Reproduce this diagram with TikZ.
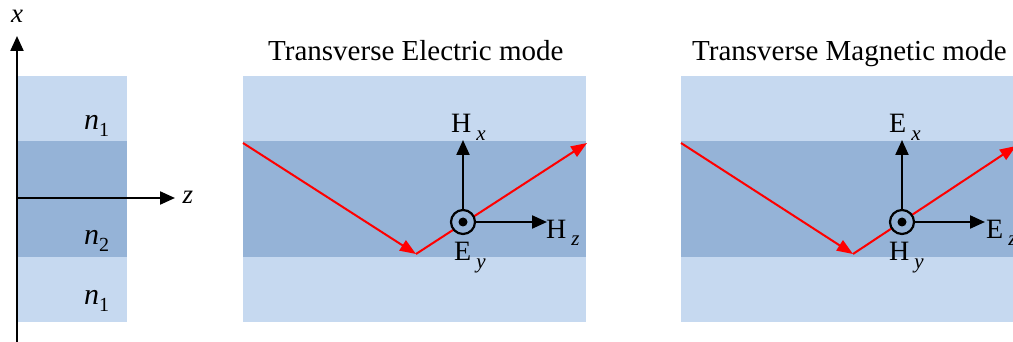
\documentclass[tikz,border=0pt]{standalone}
\usepackage{fontspec}
\setmainfont{Liberation Serif}
\usetikzlibrary{arrows.meta}
\definecolor{lightband}{RGB}{198,217,240}
\definecolor{darkband}{RGB}{149,179,215}
\tikzset{
  axis/.style={line width=2.2pt,-{Triangle[length=15pt,width=13pt]}},
  ray/.style={line width=2pt,red,-{Triangle[length=16pt,width=12pt]}},
  title/.style={anchor=base west,inner sep=0pt,font=\fontsize{29}{31}\selectfont},
  field/.style={anchor=base west,inner sep=0pt,font=\fontsize{28}{30}\selectfont},
  idx/.style={anchor=base west,inner sep=0pt,font=\fontsize{30}{32}\selectfont\itshape},
  axlab/.style={inner sep=0pt,font=\fontsize{27}{29}\selectfont\itshape},
  ring/.style={line width=2.2pt,fill=darkband},
}
\newcommand{\fsub}[1]{\hspace{5pt}\raisebox{-8pt}{\fontsize{21}{22}\selectfont\itshape #1}}
\newcommand{\nsub}[1]{\raisebox{-7pt}{\fontsize{20}{22}\selectfont\upshape #1}}
\begin{document}
\begin{tikzpicture}[x=1pt,y=-1pt]
\useasboundingbox (0,0) rectangle (1013,342);
% ---------- left panel ----------
\fill[lightband] (18,76) rectangle (127,322);
\fill[darkband] (18,141) rectangle (127,257);
\coordinate (o) at (17,198);
\coordinate (xb) at (17,342);
\coordinate (xt) at (17,36);
\coordinate (zt) at (175,198);
\draw[axis] (xb) -- (xt);
\draw[axis] (o) -- (zt);
\node[axlab] (xl) at (17,16) {x};
\node[axlab] (zl) at (188,197) {z};
\node[idx] (n1a) at (84,130) {n\nsub{1}};
\node[idx] (n2) at (84,244) {n\nsub{2}};
\node[idx] (n1b) at (84,304) {n\nsub{1}};
% ---------- TE panel ----------
\fill[lightband] (243,76) rectangle (586,322);
\fill[darkband] (243,141) rectangle (586,257);
\node[title] (t1) at (268,61) {Transverse Electric mode};
\coordinate (r1a) at (243,143);
\coordinate (r1b) at (416,254);
\coordinate (r1c) at (587,143);
\draw[ray] (r1a) -- (r1b);
\draw[ray] (r1b) -- (r1c);
\coordinate (c1) at (463,222);
\coordinate (c1u) at (463,140);
\coordinate (c1r) at (547,222);
\draw[axis] (c1) -- (c1u);
\draw[axis] (c1) -- (c1r);
\draw[ring] (c1) circle (12);
\fill (c1) circle (4.5);
\node[field] (hx) at (451,133) {H\fsub{x}};
\node[field] (hz) at (546,238) {H\fsub{z}};
\node[field] (ey) at (454,261) {E\fsub{y}};
% ---------- TM panel ----------
\fill[lightband] (681,76) rectangle (1013,322);
\fill[darkband] (681,141) rectangle (1013,257);
\node[title] (t2) at (692,61) {Transverse Magnetic mode};
\coordinate (r2a) at (681,143);
\coordinate (r2b) at (853,254);
\coordinate (r2c) at (1016,146);
\draw[ray] (r2a) -- (r2b);
\draw[ray] (r2b) -- (r2c);
\coordinate (c2) at (902,222);
\coordinate (c2u) at (902,140);
\coordinate (c2r) at (985,222);
\draw[axis] (c2) -- (c2u);
\draw[axis] (c2) -- (c2r);
\draw[ring] (c2) circle (12);
\fill (c2) circle (4.5);
\node[field] (ex) at (889,133) {E\fsub{x}};
\node[field] (ez) at (986,238) {E\fsub{z}};
\node[field] (hy) at (889,261) {H\fsub{y}};
\end{tikzpicture}
\end{document}
